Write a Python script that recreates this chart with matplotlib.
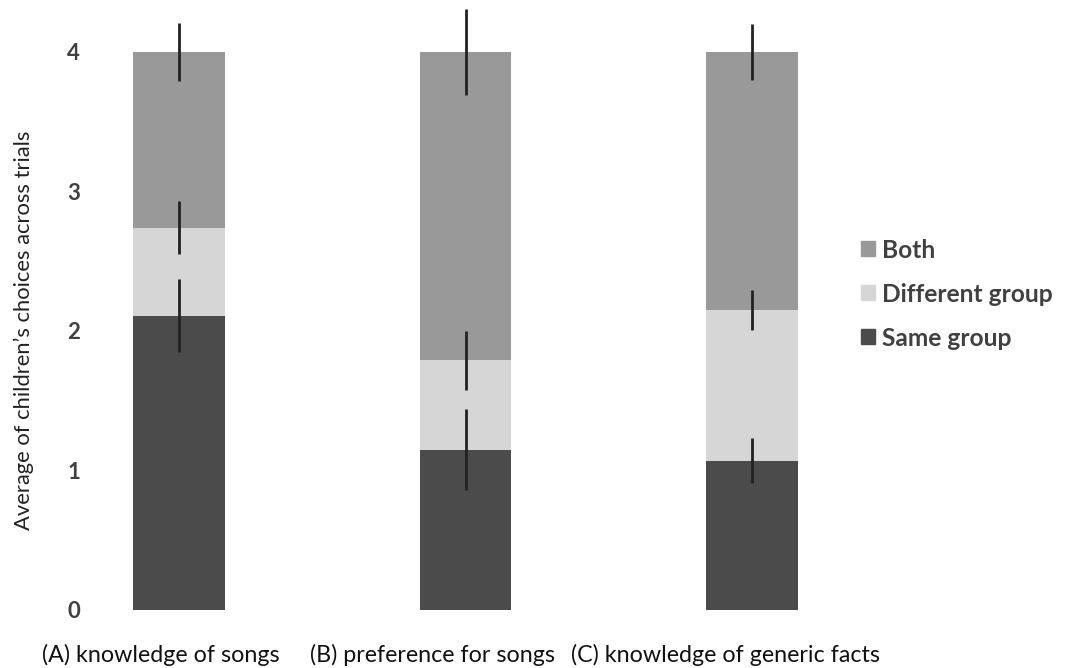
import matplotlib
matplotlib.use("Agg")
import matplotlib.pyplot as plt
import matplotlib.transforms as mtransforms
from matplotlib.patches import Patch
import numpy as np

categories = ["(A) knowledge of songs", "(B) preference for songs", "(C) knowledge of generic facts"]
series_names = ["Same group", "Different group", "Both"]
same_group = [2.11, 1.15, 1.07]
different_group = [0.63, 0.64, 1.08]
both = [1.26, 2.21, 1.85]
same_err = [0.26, 0.29, 0.16]
diff_err = [0.19, 0.21, 0.14]
both_err = [0.21, 0.31, 0.20]
yticks = [0, 1, 2, 3, 4]
ylabel = "Average of children\u2019s choices across trials"

colors = {"Same group": "#4b4b4b", "Different group": "#d6d6d6", "Both": "#999999"}
font = "Lato"
W, H = 1068, 668
fig = plt.figure(figsize=(W / 100, H / 100), dpi=100)
ax_left, ax_right = 90, 860
ax = fig.add_axes([ax_left / W, (H - 610) / H, (ax_right - ax_left) / W, 607 / H])

x = np.arange(len(categories))
values = [same_group, different_group, both]
errs = [same_err, diff_err, both_err]
bottom = np.zeros(len(categories))
for name, vals, err in zip(series_names, values, errs):
    vals = np.array(vals)
    ax.bar(x, vals, width=0.32, bottom=bottom, color=colors[name], label=name, zorder=1)
    ax.errorbar(x, bottom + vals, yerr=err, fmt="none", ecolor="#222222", elinewidth=2, capsize=0, zorder=3)
    bottom = bottom + vals

# bar centres at 179 px, spacing 286.5 px
ax.set_xlim((ax_left - 179) / 286.5, (ax_right - 179) / 286.5)
ax.set_ylim(0, 4.35)
ax.set_yticks(yticks)
ax.set_yticklabels([str(t) for t in yticks], fontsize=16, fontweight="bold", color="#404040", family=font)
ax.tick_params(axis="y", length=0, pad=7)
ax.tick_params(axis="x", length=0, pad=20)
ax.set_xticks(x)
ax.set_xticklabels(categories, fontsize=10, color="#111111", family=font, ha="left")
for s in ax.spines.values():
    s.set_visible(False)

yl = fig.text(0.02, 0.5, ylabel, rotation=90, ha="center", va="center",
              fontsize=10, color="#222222", family=font)

fig.canvas.draw()
r = fig.canvas.get_renderer()

# fit x category labels
labs = ax.get_xticklabels()
tot = sum(l.get_window_extent(r).width for l in labs)
fs = 10 * (239 + 245 + 308) / tot
for l in labs:
    l.set_fontsize(fs)
# fit y label
h = yl.get_window_extent(r).height
yl.set_fontsize(10 * 400 / h)

# legend
lab_tmp = fig.text(0, 0, "Different group", fontsize=10, fontweight="bold", family=font)
lw = lab_tmp.get_window_extent(r).width
lfs = 10 * 171 / lw
lab_tmp.set_fontsize(lfs)
lh = lab_tmp.get_window_extent(r).height
lab_tmp.remove()
lfs_px = lfs * 100 / 72
handles = [Patch(color=colors[n]) for n in reversed(series_names)]
leg = fig.legend(handles, list(reversed(series_names)), loc="upper left",
                 bbox_to_anchor=(850 / W, (H - 226) / H), frameon=False,
                 prop={"family": font, "size": lfs, "weight": "bold"},
                 handlelength=14 / lfs_px, handleheight=14 / lfs_px,
                 handletextpad=7 / lfs_px, labelspacing=(44 - lh) / lfs_px,
                 borderpad=0, borderaxespad=0)
for t in leg.get_texts():
    t.set_color("#404040")

fig.canvas.draw()
# position x labels
lefts = [42, 310, 571]
for l, lt in zip(labs, lefts):
    e = l.get_window_extent(r)
    dx = lt - e.x0
    dy = (H - 655) - (e.y0 + e.y1) / 2
    l.set_transform(l.get_transform() + mtransforms.ScaledTranslation(dx / 100, dy / 100, fig.dpi_scale_trans))
# position y label
e = yl.get_window_extent(r)
cx, cy = (e.x0 + e.x1) / 2, (e.y0 + e.y1) / 2
yl.set_position((yl.get_position()[0] + (24 - cx) / W, yl.get_position()[1] + ((H - 330) - cy) / H))
# position legend so first text starts at x=882 and is centred at y=250
t0 = leg.get_texts()[0].get_window_extent(r)
dx = 882 - t0.x0
dy = (H - 250) - (t0.y0 + t0.y1) / 2
leg.set_bbox_to_anchor((850 / W + dx / W, (H - 226) / H + dy / H), transform=fig.transFigure)

fig.savefig("out.png", dpi=100)
